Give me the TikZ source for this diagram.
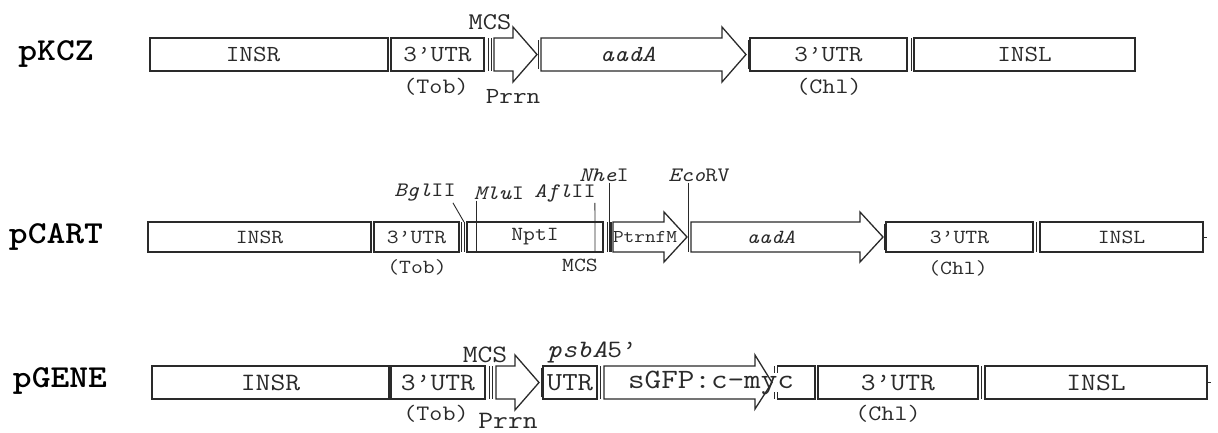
\documentclass[tikz,border=0pt]{standalone}
\usepackage{fontspec}
\setmonofont{Latin Modern Mono}[FakeStretch=1.15]
\newfontfamily\namefont{lmmonolt10-bold.otf}[FakeStretch=1.12]
\usepackage{tikz}
\usetikzlibrary{positioning,calc}
\definecolor{mapink}{HTML}{2A2A2A}
\newcommand{\mapfont}[1]{\fontsize{#1}{#1}\selectfont\ttfamily}

\begin{document}
\begin{tikzpicture}[x=1pt, y=-1pt,
  seg/.style={draw=mapink, line width=1.3pt, inner sep=0pt, outer sep=0pt, anchor=west, text=mapink},
  gene/.style={draw=mapink, line width=1.3pt, line join=miter},
  tick/.style={draw=mapink, line width=1pt},
  cut/.style={draw=mapink, line width=1.8pt},
  site/.style={draw=mapink, line width=0.9pt},
  txA/.style={font=\mapfont{23}, inner sep=0pt, text=mapink},
  txB/.style={font=\mapfont{20}, inner sep=0pt, text=mapink},
  txC/.style={font=\mapfont{25}, inner sep=0pt, text=mapink},
  sub/.style={font=\mapfont{22}, inner sep=0pt, text=mapink},
  enz/.style={font=\mapfont{20.5}, inner sep=1pt, text=mapink},
  vname/.style={font=\fontsize{32}{32}\selectfont\namefont, inner sep=0pt, text=black},
]
\useasboundingbox (0,0) rectangle (1218,432);

\node[vname] (kName) at (56,54) {pKCZ};
\node[seg, txA, minimum width=238pt, minimum height=33pt] (kInsr) at (150,54.5) {\hspace*{-32pt}INSR};
\node[seg, txA, minimum width=93pt, minimum height=33pt] (kUtr) at (391,54.5) {3’UTR};
\draw[tick] (488,38) -- (488,71);
\draw[tick] (491,38) -- (491,71);
\draw[gene] (494,38) -- (513,38) -- (513,27) -- (537,54.5) -- (513,82) -- (513,71) -- (494,71) -- cycle;
\draw[tick] (538.5,40) -- (538.5,69);
\draw[gene] (541,38) -- (722,38) -- (722,27) -- (746,54.5) -- (722,82) -- (722,71) -- (541,71) -- cycle;
\node[txA, font=\mapfont{23}\itshape] (kAad) at (628,54.5) {aadA};
\draw[tick] (748,40) -- (748,69);
\node[seg, txA, minimum width=157pt, minimum height=33pt] (kUtrC) at (750,54.5) {3’UTR};
\draw[tick] (911,38) -- (911,71);
\node[seg, txA, minimum width=221pt, minimum height=33pt] (kInsl) at (914,54.5) {INSL};
\node[txA, font=\mapfont{24}] (kMcs) at (490,22) {MCS};
\node[txA] (kPrrn) at (513,96) {Prrn};
\node[sub] (kTob) at (436,87) {(Tob)};
\node[sub] (kChl) at (829,87) {(Chl)};

\node[vname] (cName) at (56,237) {pCART};
\node[seg, txB, minimum width=223pt, minimum height=30pt] (cInsr) at (148,237) {INSR};
\node[seg, txB, minimum width=85pt, minimum height=30pt] (cUtr) at (374,237) {3’UTR};
\draw[cut] (461.5,222) -- (461.5,252);
\draw[cut] (464.5,222) -- (464.5,252);
\node[seg, txB, minimum width=136pt, minimum height=30pt] (cNpt) at (467,237) {NptI};
\draw[cut] (607.5,222) -- (607.5,252);
\draw[cut] (611,222) -- (611,252);
\draw[gene] (613,222) -- (664,222) -- (664,212) -- (687,237) -- (664,262) -- (664,252) -- (613,252) -- cycle;
\node[txB, font=\mapfont{18}] (cPtrn) at (645,237) {PtrnfM};
\draw[gene] (691,222) -- (860,222) -- (860,212) -- (883,237) -- (860,262) -- (860,252) -- (691,252) -- cycle;
\node[txB, font=\mapfont{20}\itshape] (cAad) at (771,237) {aadA};
\draw[tick] (884.5,224) -- (884.5,250);
\node[seg, txB, minimum width=147pt, minimum height=30pt] (cUtrC) at (886,237) {3’UTR};
\draw[tick] (1036.5,222) -- (1036.5,252);
\node[seg, txB, minimum width=163pt, minimum height=30pt] (cInsl) at (1040,237) {INSL};
\draw[tick] (1203,237) -- (1207,237);
\node[enz] (cBgl) at (425,193) {\textit{Bgl}II};
\node[enz] (cMlu) at (499,193) {\textit{Mlu}I};
\node[enz] (cAfl) at (565,193) {\textit{Afl}II};
\node[enz] (cNhe) at (604,175) {\textit{Nhe}I};
\node[enz] (cEco) at (699,175) {\textit{Eco}RV};
\coordinate (cBglCut) at (464,222);
\coordinate (cMluCut) at (476,252);
\coordinate (cAflCut) at (595,252);
\coordinate (cNheCut) at (609,252);
\coordinate (cEcoCut) at (688.5,252);
\draw[site] ($(cBgl.south east)+(-4,0)$) -- (cBglCut);
\draw[site] (cMluCut |- cMlu.south) -- (cMluCut);
\draw[site] ($(cAfl.south east)+(-2,0)$) -- (cAflCut |- cNpt.north) -- (cAflCut);
\draw[site] (cNheCut |- cNhe.south) -- (cNheCut);
\draw[site] (cEcoCut |- cEco.south) -- (cEcoCut);
\node[txB] (cMcs) at (580,265) {MCS};
\node[txB] (cTob) at (417,267) {(Tob)};
\node[txB] (cChl) at (958,268) {(Chl)};

\node[vname] (gName) at (60,381) {pGENE};
\node[seg, txC, minimum width=237pt, minimum height=33pt] (gInsr) at (152,382.5) {INSR};
\node[seg, txC, minimum width=94pt, minimum height=33pt] (gUtr) at (391,382.5) {3’UTR};
\draw[tick] (489,366) -- (489,399);
\draw[tick] (492.5,366) -- (492.5,399);
\draw[gene] (496,366) -- (515,366) -- (515,355) -- (539,382.5) -- (515,410) -- (515,399) -- (496,399) -- cycle;
\draw[tick] (541,368) -- (541,397);
\node[seg, txC, font=\mapfont{26}, minimum width=54pt, minimum height=33pt] (gUtr5) at (543,382.5) {UTR};
\draw[tick] (600.5,366) -- (600.5,399);
\draw[gene] (604,366) -- (755,366) -- (755,355) -- (772,382.5) -- (755,409) -- (755,399) -- (604,399) -- cycle;
\draw[gene] (777,366) -- (815,366) -- (815,399) -- (777,399);
\draw[tick] (774,366) -- (774,373);
\draw[tick] (777,366) -- (777,373);
\draw[tick] (774,392) -- (774,399);
\draw[tick] (777,392) -- (777,399);
\node[txC, font=\mapfont{28}] (gGfp) at (711,382.5) {sGFP:c-myc};
\node[seg, txC, minimum width=160pt, minimum height=33pt] (gUtrC) at (818,382.5) {3’UTR};
\draw[tick] (981.5,366) -- (981.5,399);
\node[seg, txC, minimum width=222pt, minimum height=33pt] (gInsl) at (985,382.5) {INSL};
\draw[tick] (1207,382.5) -- (1211,382.5);
\node[txC] (gMcs) at (485,355) {MCS};
\node[txC] (gPsb) at (592,352) {\textit{psbA}5’};
\node[txC] (gPrrn) at (508,421) {Prrn};
\node[sub] (gTob) at (436,414) {(Tob)};
\node[sub] (gChl) at (888,414) {(Chl)};
\end{tikzpicture}
\end{document}
